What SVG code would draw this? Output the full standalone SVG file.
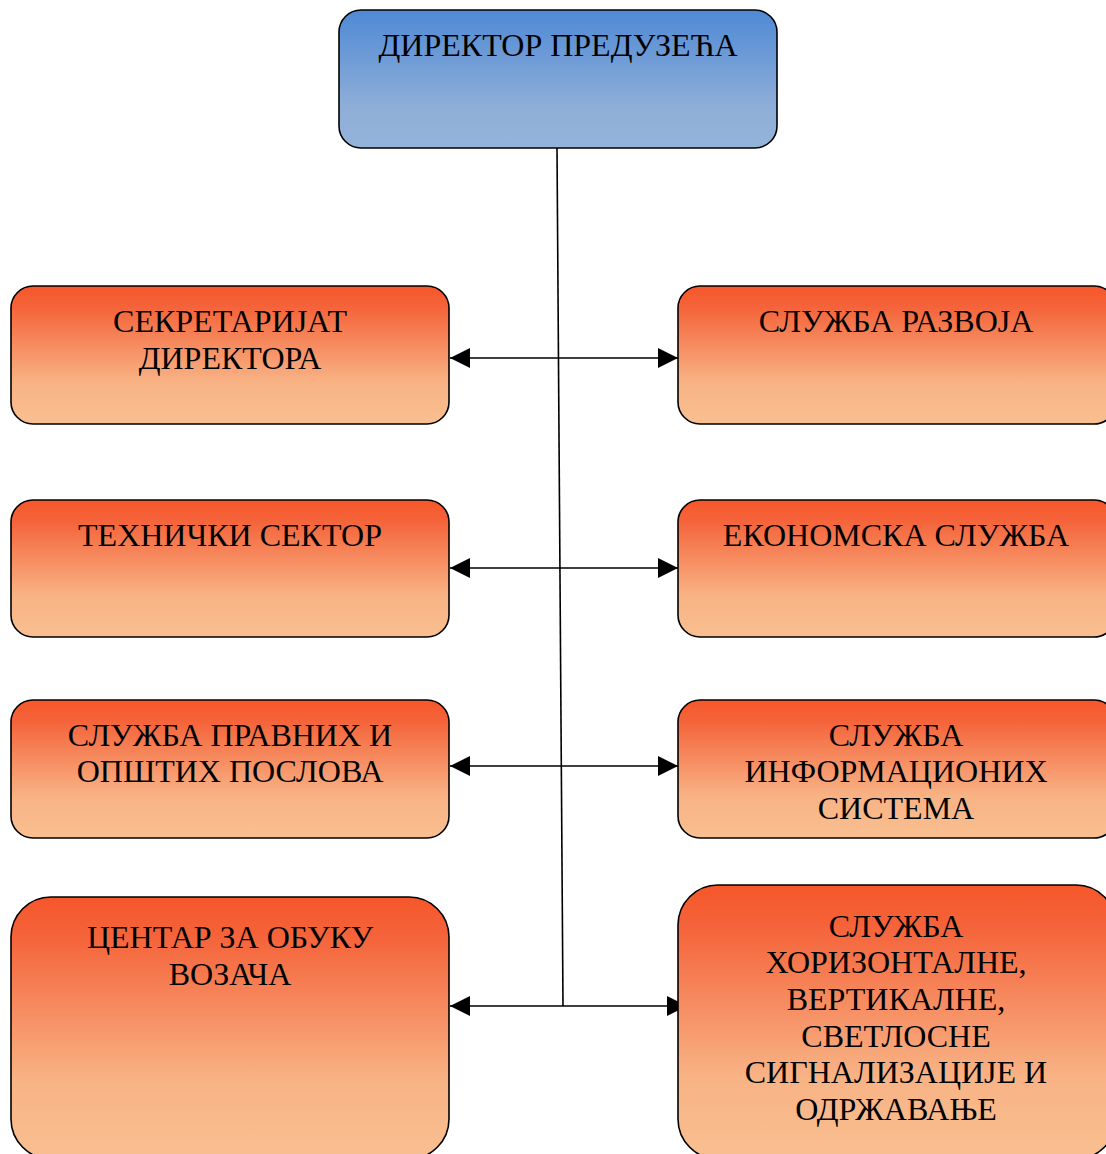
<svg xmlns="http://www.w3.org/2000/svg" width="1106" height="1154" viewBox="0 0 1106 1154">
<style>
.box{stroke:#000;stroke-width:1.6}
.o{fill:url(#og)}
.t{font-family:"Liberation Serif","Times New Roman",serif;font-size:32px;fill:#000;text-anchor:middle}
.c{stroke:#000;stroke-width:1.6;fill:none}
.a{stroke:#000;stroke-width:1.6;fill:none;marker-start:url(#ah);marker-end:url(#ah)}
</style>
<defs>
<linearGradient id="bg" x1="0" y1="0" x2="0" y2="1">
<stop offset="0" stop-color="#4f89d5"/>
<stop offset="0.7" stop-color="#8eaed8"/>
<stop offset="1" stop-color="#95b4da"/>
</linearGradient>
<linearGradient id="og" x1="0" y1="0" x2="0" y2="1">
<stop offset="0" stop-color="#f5572a"/>
<stop offset="0.15" stop-color="#f5633a"/>
<stop offset="0.7" stop-color="#f8b385"/>
<stop offset="1" stop-color="#f9bf90"/>
</linearGradient>
<marker id="ah" viewBox="0 0 20 20" refX="20" refY="10" markerWidth="20" markerHeight="20" markerUnits="userSpaceOnUse" orient="auto-start-reverse">
<path d="M0,0 L20,10 L0,20 Z" fill="#000"/>
</marker>
</defs>

<g id="connectors">
<line class="c" x1="557" y1="148" x2="563" y2="1006"/>
<line class="a" x1="450" y1="358" x2="678" y2="358"/>
<line class="a" x1="450" y1="568" x2="678" y2="568"/>
<line class="a" x1="450" y1="766" x2="678" y2="766"/>
<line class="a" x1="450" y1="1006" x2="687" y2="1006"/>
</g>

<g id="director">
<rect class="box" x="339" y="10" width="438" height="138" rx="22" fill="url(#bg)"/>
<text class="t" x="558" y="56">ДИРЕКТОР ПРЕДУЗЕЋА</text>
</g>

<g id="sekretarijat">
<rect class="box o" x="11" y="286" width="438" height="138" rx="22"/>
<text class="t" x="230" y="332">СЕКРЕТАРИЈАТ</text>
<text class="t" x="230" y="369">ДИРЕКТОРА</text>
</g>

<g id="razvoj">
<rect class="box o" x="678" y="286" width="438" height="138" rx="22"/>
<text class="t" x="896" y="332">СЛУЖБА РАЗВОЈА</text>
</g>

<g id="tehnicki">
<rect class="box o" x="11" y="500" width="438" height="137" rx="22"/>
<text class="t" x="230" y="546">ТЕХНИЧКИ СЕКТОР</text>
</g>

<g id="ekonomska">
<rect class="box o" x="678" y="500" width="438" height="137" rx="22"/>
<text class="t" x="896" y="546">ЕКОНОМСКА СЛУЖБА</text>
</g>

<g id="pravni">
<rect class="box o" x="11" y="700" width="438" height="138" rx="22"/>
<text class="t" x="230" y="746">СЛУЖБА ПРАВНИХ И</text>
<text class="t" x="230" y="782">ОПШТИХ ПОСЛОВА</text>
</g>

<g id="informacioni">
<rect class="box o" x="678" y="700" width="438" height="138" rx="22"/>
<text class="t" x="896" y="746">СЛУЖБА</text>
<text class="t" x="896" y="782">ИНФОРМАЦИОНИХ</text>
<text class="t" x="896" y="819">СИСТЕМА</text>
</g>

<g id="centar">
<rect class="box o" x="11" y="897" width="438" height="262" rx="40"/>
<text class="t" x="230" y="948">ЦЕНТАР ЗА ОБУКУ</text>
<text class="t" x="230" y="985">ВОЗАЧА</text>
</g>

<g id="signalizacija">
<rect class="box o" x="678" y="885" width="438" height="274" rx="40"/>
<text class="t" x="896" y="937">СЛУЖБА</text>
<text class="t" x="896" y="973">ХОРИЗОНТАЛНЕ,</text>
<text class="t" x="896" y="1010">ВЕРТИКАЛНЕ,</text>
<text class="t" x="896" y="1047">СВЕТЛОСНЕ</text>
<text class="t" x="896" y="1083">СИГНАЛИЗАЦИЈЕ И</text>
<text class="t" x="896" y="1120">ОДРЖАВАЊЕ</text>
</g>
</svg>
